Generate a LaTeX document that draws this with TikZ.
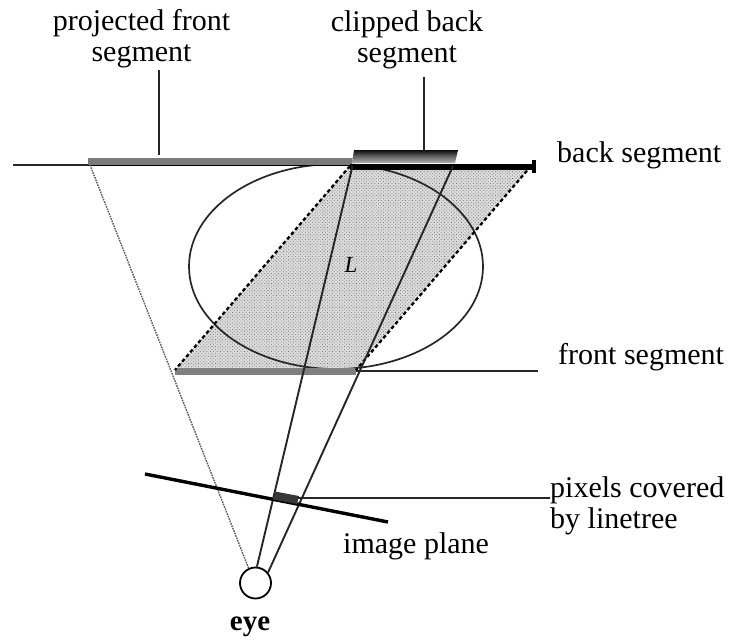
\documentclass[tikz,border=0pt]{standalone}
\usepackage{fontspec}
\setmainfont{Liberation Serif}
\usetikzlibrary{shadings,patterns.meta}
\tikzset{
  x=1pt,y=-1pt,
  lab/.style={font=\fontsize{30}{31}\selectfont,align=center,inner sep=0pt},
  labl/.style={lab,align=left,anchor=base west},
  thinln/.style={draw=black!85,line width=1.7pt},
  ray/.style={draw=black!85,line width=1.9pt},
  faint/.style={draw=black!65,line width=1.4pt,dash pattern=on 1.6pt off 1pt},
  dashln/.style={draw=black,line width=2.3pt,dash pattern=on 3.6pt off 2.6pt},
}
\begin{document}
\begin{tikzpicture}
\useasboundingbox (0,0) rectangle (731,640);
% key points
\coordinate (bl) at (350,166);
\coordinate (br) at (531,166);
\coordinate (fr) at (356,370);
\coordinate (fl) at (175,370);
\coordinate (rayTop) at (352.5,166);
\coordinate (backEnd) at (13,164.7);
\coordinate (frontEnd) at (538,371);
\coordinate (pfl) at (90,165);
\coordinate (cbr) at (453,166);
\coordinate (ipl) at (145,474);
\coordinate (ipr) at (388,522);
\coordinate (pixR) at (298,498);
\coordinate (pfTop) at (159,155);
\coordinate (cbTop) at (424,150);
% shaded parallelogram
\fill[black!14] (bl) -- (br) -- (fr) -- (fl) -- cycle;
\fill[pattern={Dots[radius=0.55pt,distance=2.4pt,angle=45]},pattern color=black!55] (bl) -- (br) -- (fr) -- (fl) -- cycle;
% ellipse
\draw[thinln] (336,266.5) ellipse [x radius=147, y radius=102.5];
% labels
\node[lab] (pfLabel) at (141.5,39) {projected front\\segment};
\node[lab] (cbLabel) at (407,40) {clipped back\\segment};
\node[labl] (bsLabel) at (557,162) {back segment};
\node[labl] (fsLabel) at (558,364) {front segment};
\node[lab,align=left,anchor=west] (pxLabel) at (550,505.5) {pixels covered\\by linetree};
\node[labl] (ipLabel) at (343,553) {image plane};
\node[lab,anchor=base,font=\fontsize{29}{31}\selectfont\bfseries] (eyeLabel) at (250,630) {eye};
\node[lab,anchor=base,font=\fontsize{23}{24}\selectfont\itshape] (lLabel) at (351,272) {L};
\node[circle,draw=black,line width=1.8pt,minimum size=31pt,inner sep=0pt,fill=white] (eye) at (255.5,583) {};
% back line
\draw[thinln] (backEnd) -- (90,164.7);
\fill[black!52] (88,157.5) rectangle (352,165.5);
\draw[black,line width=1.2pt] (88,165.5) -- (352,165.5);
% clipped band
\shade[top color=black!95,bottom color=black!30,middle color=black!60] (354,150) -- (458,150) -- (455,163) -- (352,163) -- cycle;
\draw[black,line width=6pt] (350,166.5) -- (533,166.5);
\fill[black] (532,159.5) rectangle (535.5,172.5);
% front band
\fill[black!50] (175,368) rectangle (356,375);
\draw[thinln] (356,371) -- (frontEnd);
% dashed sides
\draw[dashln] (bl) -- (fl);
\draw[dashln] (br) -- (fr);
% rays
\draw[ray] (rayTop) -- (eye.85);
\draw[ray] (cbr) -- (eye.40);
\draw[faint] (pfl) -- (eye.115);
% image plane
\draw[black,line width=3.4pt] (ipl) -- (ipr);
\fill[black!78] (275,491.5) -- (299,496) -- (297,504) -- (273,499.5) -- cycle;
% leaders
\draw[thinln] (pfTop) -- (159,70);
\draw[thinln] (cbTop) -- (424,77);
\draw[thinln] (pixR) -- (550,498);
\end{tikzpicture}
\end{document}
